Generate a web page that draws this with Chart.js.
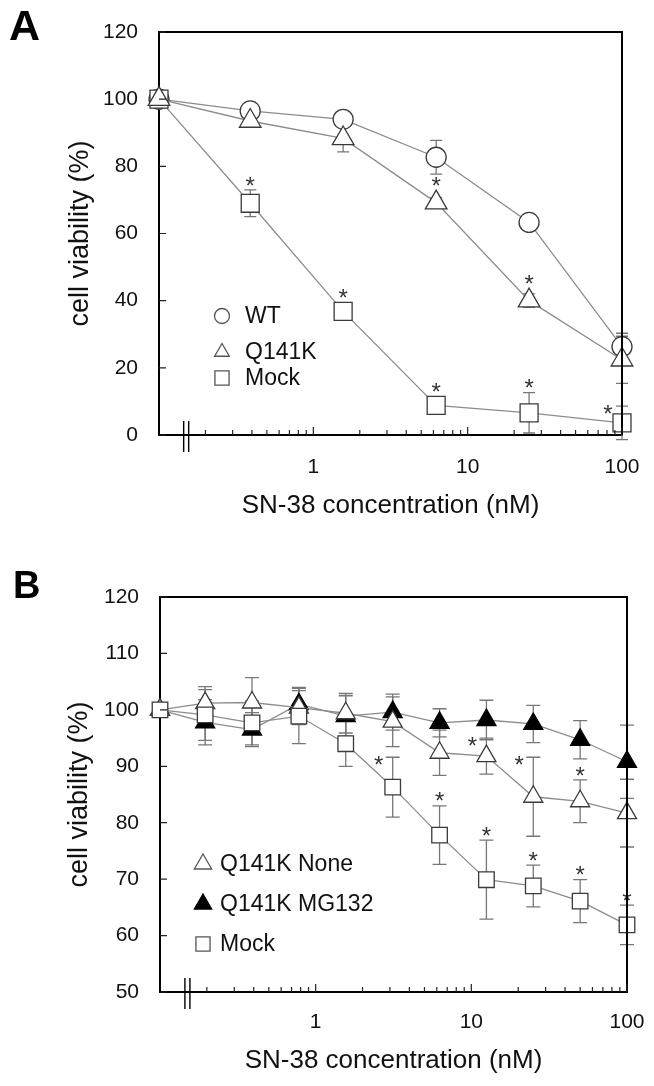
<!DOCTYPE html>
<html>
<head>
<meta charset="utf-8">
<script src="https://cdn.jsdelivr.net/npm/chart.js@4.4.1/dist/chart.umd.min.js"></script>
<style>
  html, body { margin: 0; padding: 0; background: #fff; }
  canvas { display: block; }
</style>
</head>
<body>
<canvas id="chartA" width="654" height="543"></canvas>
<canvas id="chartB" width="654" height="543"></canvas>
<script>
// SN-38 concentration (nM). 0 = untreated control, drawn at the left end of the log axis
const concA = [0, 0.39, 1.56, 6.25, 25, 100];
const wtA      = [100, 96.5, 94, 82.7, 63.3, 26.3];
const wtErrA   = [0, 1.5, 1.5, 5, 1, 4];
const wtStarA  = [0, 0, 0, 0, 0, 0];
const q141kA     = [100, 93.5, 88.3, 69.2, 40, 22.4];
const q141kErrA  = [0, 1.5, 4, 1.5, 2, 7];
const q141kStarA = [0, 0, 0, 1, 1, 0];
const mockA     = [100, 69, 36.8, 8.8, 6.6, 3.6];
const mockErrA  = [0, 4, 1.5, 1.5, 6, 5];
const mockStarA = [0, 1, 1, 1, 1, 1];

const concB = [0, 0.195, 0.39, 0.78, 1.56, 3.125, 6.25, 12.5, 25, 50, 100];
const noneB     = [100, 101.2, 101.3, 100.4, 99.4, 97.9, 92.4, 91.8, 84.6, 83.8, 81.7];
const noneErrB  = [0, 2.9, 4.4, 3, 3.5, 4.4, 4, 3.2, 7, 3.8, 6];
const noneStarB = [0, 0, 0, 0, 0, 0, 0, 1, 1, 1, 0];
const mg132B     = [100, 97.8, 96.5, 101, 98.9, 99.6, 97.7, 98.2, 97.5, 94.7, 90.8];
const mg132ErrB  = [0, 4, 3, 3, 3.6, 3.2, 2.5, 3.5, 3.3, 3.4, 6.5];
const mg132StarB = [0, 0, 0, 0, 0, 0, 0, 0, 0, 0, 0];
const mockB     = [100, 99.1, 97.7, 98.9, 94, 86.3, 77.8, 69.9, 68.8, 66.1, 61.9];
const mockErrB  = [0, 4.5, 3.9, 4.9, 4, 5.3, 5.2, 7, 3.7, 3.8, 3.5];
const mockStarB = [0, 0, 0, 0, 0, 1, 1, 1, 1, 1, 1];

const xTickValues = [1, 10, 100];
const xTickLabels = ['1', '10', '100'];
const xMinorTicks = [0.2, 0.3, 0.4, 0.5, 0.6, 0.7, 0.8, 0.9,
                     2, 3, 4, 5, 6, 7, 8, 9,
                     20, 30, 40, 50, 60, 70, 80, 90];
const X_MIN = 0.1, X_MAX = 100, X_BREAK = 0.15;

// where the asterisk sits next to a point ('left' = beside the top of the error bar)
const starSideA = { mock: { 5: 'left' } };
const starSideB = { none: { 7: 'left', 8: 'left' }, mock: { 5: 'left' } };

Chart.defaults.font.family = "'Liberation Sans', Arial, sans-serif";
Chart.defaults.color = '#111';

const LINE = '#8c8c8c', EDGE = '#3a3a3a', ERR = '#777';
const STAR_PX = 24;

function pts(conc, vals) {
  return conc.map((c, i) => ({ x: c === 0 ? X_MIN : c, y: vals[i] }));
}

function series(label, conc, vals, errs, stars, side, style, r, filled, order, legendR) {
  return {
    label, data: pts(conc, vals), errors: errs, stars, starSide: side || {},
    pointStyle: style, pointRadius: r, pointHoverRadius: r,
    pointBackgroundColor: filled ? '#000' : '#fff',
    pointBorderColor: filled ? '#000' : EDGE, pointBorderWidth: 1.3,
    borderColor: LINE, borderWidth: 1.3, order, clip: false, legendRadius: legendR
  };
}

function halfHeight(style, r) {
  return style === 'rect' ? r * Math.SQRT1_2 : r;
}

function markPoint(ctx, style, r, x, y, filled) {
  ctx.fillStyle = filled ? '#000' : '#fff';
  ctx.strokeStyle = filled ? '#000' : '#555';
  ctx.lineWidth = 1.3;
  ctx.beginPath();
  if (style === 'circle') {
    ctx.arc(x, y, r, 0, Math.PI * 2);
  } else if (style === 'triangle') {
    ctx.moveTo(x, y - r);
    ctx.lineTo(x + r * Math.sin(Math.PI * 2 / 3), y - r * Math.cos(Math.PI * 2 / 3));
    ctx.lineTo(x + r * Math.sin(Math.PI * 4 / 3), y - r * Math.cos(Math.PI * 4 / 3));
    ctx.closePath();
  } else {
    const s = r * Math.SQRT1_2;
    ctx.rect(x - s, y - s, 2 * s, 2 * s);
  }
  ctx.fill();
  ctx.stroke();
}

const decor = {
  id: 'decor',
  beforeDatasetsDraw(chart, args, opts) {
    const { ctx } = chart;
    const ys = chart.scales.y;
    ctx.save();
    ctx.strokeStyle = ERR;
    ctx.lineWidth = 1.3;
    chart.data.datasets.forEach((ds, i) => {
      chart.getDatasetMeta(i).data.forEach((pt, j) => {
        const e = ds.errors[j];
        if (!e) return;
        const v = ds.data[j].y;
        const y1 = ys.getPixelForValue(v + e), y2 = ys.getPixelForValue(v - e);
        ctx.beginPath();
        ctx.moveTo(pt.x, y1); ctx.lineTo(pt.x, y2);
        ctx.moveTo(pt.x - opts.cap, y1); ctx.lineTo(pt.x + opts.cap, y1);
        ctx.moveTo(pt.x - opts.cap, y2); ctx.lineTo(pt.x + opts.cap, y2);
        ctx.stroke();
      });
    });
    ctx.restore();
  },
  afterDatasetsDraw(chart, args, opts) {
    const { ctx } = chart;
    const ys = chart.scales.y;
    ctx.save();
    ctx.fillStyle = '#333';
    ctx.font = STAR_PX + "px 'Liberation Sans', Arial, sans-serif";
    ctx.textAlign = 'center';
    ctx.textBaseline = 'alphabetic';
    chart.data.datasets.forEach((ds, i) => {
      chart.getDatasetMeta(i).data.forEach((pt, j) => {
        if (!ds.stars[j]) return;
        const v = ds.data[j].y, e = ds.errors[j] || 0;
        const errTop = ys.getPixelForValue(v + e);
        let cx, cy;
        if (ds.starSide[j] === 'left') {
          cx = pt.x - 14; cy = errTop + 2;
        } else {
          cx = pt.x;
          cy = Math.min(errTop, pt.y - halfHeight(ds.pointStyle, ds.pointRadius)) - 10;
        }
        // the asterisk glyph is centred about 0.57 em above the baseline
        ctx.fillText('*', cx, cy + STAR_PX * 0.57);
      });
    });
    ctx.restore();
  },
  afterDraw(chart, args, opts) {
    const { ctx, chartArea: a } = chart;
    const xs = chart.scales.x, ys = chart.scales.y;
    ctx.save();
    // top and right edges of the frame
    ctx.strokeStyle = '#000';
    ctx.lineWidth = 2;
    ctx.beginPath();
    ctx.moveTo(a.left, a.top); ctx.lineTo(a.right, a.top); ctx.lineTo(a.right, a.bottom);
    ctx.stroke();
    // inward tick marks
    ctx.lineWidth = 1.2;
    ctx.strokeStyle = '#222';
    ctx.beginPath();
    ys.ticks.forEach(t => {
      const y = ys.getPixelForValue(t.value);
      ctx.moveTo(a.left, y); ctx.lineTo(a.left + 7, y);
    });
    xMinorTicks.forEach(v => {
      const x = xs.getPixelForValue(v);
      ctx.moveTo(x, a.bottom); ctx.lineTo(x, a.bottom - 5);
    });
    xTickValues.forEach(v => {
      const x = xs.getPixelForValue(v);
      ctx.moveTo(x, a.bottom); ctx.lineTo(x, a.bottom - 8);
    });
    ctx.stroke();
    // axis break
    const bx = xs.getPixelForValue(X_BREAK);
    ctx.lineWidth = 1.4;
    ctx.strokeStyle = '#000';
    ctx.beginPath();
    ctx.moveTo(bx - 2.5, a.bottom - 14); ctx.lineTo(bx - 2.5, a.bottom + 17);
    ctx.moveTo(bx + 2.5, a.bottom - 14); ctx.lineTo(bx + 2.5, a.bottom + 17);
    ctx.stroke();
    // legend
    const lg = opts.legend;
    ctx.font = "23px 'Liberation Sans', Arial, sans-serif";
    ctx.textAlign = 'left';
    ctx.textBaseline = 'middle';
    chart.data.datasets.forEach((ds, i) => {
      const y = lg.rows[i];
      markPoint(ctx, ds.pointStyle, ds.legendRadius, lg.x, y, ds.pointBackgroundColor === '#000');
      ctx.fillStyle = '#111';
      ctx.fillText(ds.label, lg.textX, y + 1);
    });
    // panel letter
    ctx.font = "bold " + opts.letterSize + "px 'Liberation Sans', Arial, sans-serif";
    ctx.fillStyle = '#000';
    ctx.textBaseline = 'middle';
    ctx.fillText(opts.letter, opts.letterX, opts.letterY);
    ctx.restore();
  }
};

function makeChart(id, datasets, cfg) {
  return new Chart(document.getElementById(id), {
    type: 'line',
    data: { datasets },
    plugins: [decor],
    options: {
      responsive: false,
      animation: false,
      events: [],
      layout: { padding: { left: 0, top: cfg.top, right: cfg.right, bottom: 0 } },
      plugins: {
        legend: { display: false },
        tooltip: { enabled: false },
        decor: cfg.decor
      },
      scales: {
        x: {
          type: 'logarithmic',
          min: X_MIN, max: X_MAX,
          afterBuildTicks: s => { s.ticks = xTickValues.map(v => ({ value: v })); },
          afterFit: s => { s.height = cfg.xHeight; s.paddingLeft = 0; s.paddingRight = 0; },
          grid: { display: false, drawTicks: false },
          border: { display: true, color: '#000', width: 2 },
          ticks: {
            autoSkip: false, maxRotation: 0, padding: cfg.xTickPad,
            font: { size: 21 },
            callback: (v, i) => xTickLabels[i]
          },
          title: {
            display: true, text: 'SN-38 concentration (nM)',
            font: { size: 26 }, padding: { top: 0, bottom: cfg.xTitlePad }
          }
        },
        y: {
          min: cfg.yMin, max: cfg.yMax,
          afterFit: s => { s.width = cfg.yWidth; s.paddingTop = 0; s.paddingBottom = 0; },
          grid: { display: false, drawTicks: false },
          border: { display: true, color: '#000', width: 2 },
          ticks: { stepSize: cfg.yStep, padding: 21, font: { size: 21 } },
          title: {
            display: true, text: 'cell viability (%)',
            font: { size: 27 }, padding: { top: cfg.yTitlePad, bottom: 0 }
          }
        }
      }
    }
  });
}

makeChart('chartA', [
  series('WT', concA, wtA, wtErrA, wtStarA, {}, 'circle', 10, false, 2, 7.5),
  series('Q141K', concA, q141kA, q141kErrA, q141kStarA, {}, 'triangle', 12.5, false, 0, 8.5),
  series('Mock', concA, mockA, mockErrA, mockStarA, starSideA.mock, 'rect', 12.7, false, 1, 10)
], {
  top: 32, right: 32, xHeight: 108, yWidth: 159,
  yMin: 0, yMax: 120, yStep: 20,
  xTickPad: 20, xTitlePad: 22, yTitlePad: 64,
  decor: {
    cap: 6, letter: 'A', letterX: 9, letterY: 28, letterSize: 43,
    legend: { x: 222, textX: 245, rows: [316, 352, 378] }
  }
});

makeChart('chartB', [
  series('Q141K None', concB, noneB, noneErrB, noneStarB, starSideB.none, 'triangle', 11, false, 1, 10),
  series('Q141K MG132', concB, mg132B, mg132ErrB, mg132StarB, {}, 'triangle', 11, true, 2, 10),
  series('Mock', concB, mockB, mockErrB, mockStarB, starSideB.mock, 'rect', 11, false, 0, 10)
], {
  top: 54, right: 27, xHeight: 94, yWidth: 160,
  yMin: 50, yMax: 120, yStep: 10,
  xTickPad: 18, xTitlePad: 10, yTitlePad: 63,
  decor: {
    cap: 7, letter: 'B', letterX: 13, letterY: 45, letterSize: 38,
    legend: { x: 203, textX: 220, rows: [321, 361, 401] }
  }
});
</script>
</body>
</html>
